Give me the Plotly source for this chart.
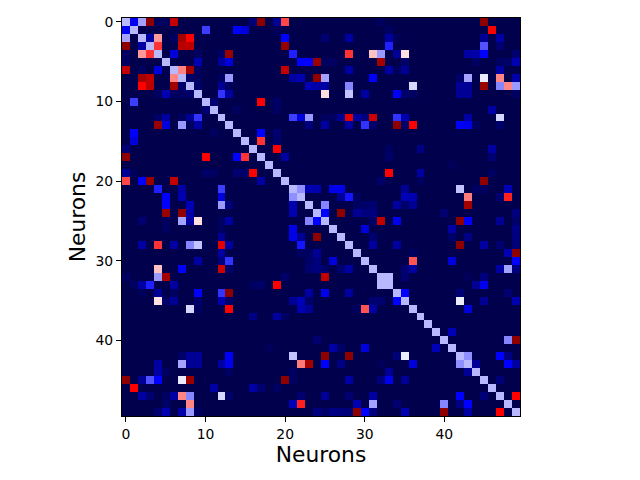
import numpy as np
import plotly.graph_objects as go

# upper triangle of the connectivity matrix, one source line per row
upper_rows = [
    0,0,0,0,0,0,0,0,0,0,0,0,
    1,1,1,1,1,1,
    2,2,2,2,2,2,2,2,2,2,2,2,
    3,3,3,3,3,3,3,
    4,4,4,4,4,4,4,4,4,4,4,4,4,4,
    5,5,5,5,5,5,5,5,5,5,5,5,5,5,
    6,6,6,6,6,6,6,6,6,
    7,7,7,7,7,7,7,7,7,7,7,7,7,7,
    8,8,8,8,8,8,8,8,8,8,8,8,8,8,
    9,9,9,9,9,9,9,9,9,9,9,
    10,10,10,
    11,11,11,
    12,12,12,12,12,12,12,12,12,12,12,12,12,12,
    13,13,13,13,13,13,13,13,13,13,13,13,
    14,14,
    15,15,
    16,16,16,16,
    17,17,17,
    18,
    19,19,19,
    20,20,20,
    21,21,21,21,21,21,21,21,21,21,
    22,22,22,22,22,22,22,22,
    23,23,23,23,23,23,23,23,
    24,24,24,24,24,24,24,
    25,25,25,25,25,25,25,
    26,26,26,
    27,27,27,27,
    28,28,28,28,28,28,
    29,29,29,
    30,30,30,
    31,31,31,31,31,
    32,32,32,32,
    33,33,
    34,34,34,
    35,35,35,
    36,
    39,
    40,40,
    42,42,42,
    43,43,43,
    45,
    47,
]
upper_cols = [
    1,2,3,4,5,6,16,17,19,20,32,45,
    10,14,15,19,33,46,
    3,4,6,7,8,20,25,28,33,34,45,47,
    4,7,8,20,33,45,47,
    6,9,12,13,21,28,31,32,34,35,43,44,45,49,
    9,12,13,22,23,24,25,26,32,35,44,47,48,49,
    7,8,9,20,28,33,34,35,47,
    8,9,12,13,21,22,24,25,31,42,43,45,47,49,
    9,12,13,23,24,25,28,36,42,43,45,47,48,49,
    12,13,25,28,30,34,35,36,42,43,49,
    11,17,19,
    14,19,46,
    21,22,23,25,26,27,28,29,30,31,34,35,43,47,
    23,25,28,30,31,34,35,36,42,43,44,47,
    17,19,
    17,19,
    19,33,37,46,
    20,33,46,
    41,
    33,37,46,
    32,37,45,
    22,23,24,26,27,35,42,44,45,48,
    27,28,29,35,36,43,47,48,
    25,29,30,31,34,35,36,43,
    25,27,29,30,31,40,49,
    31,32,34,42,43,47,49,
    30,41,49,
    31,41,43,49,
    31,34,42,45,47,49,
    36,48,49,
    36,41,49,
    35,36,47,48,49,
    33,35,43,45,
    44,45,
    35,42,48,
    42,45,49,
    43,
    41,
    48,49,
    43,47,48,
    44,48,49,
    47,
    49,
]
upper_values = [
    .23,.41,.97,.03,.03,.87,.06,.97,.10,.68,.03,.97,
    .31,.25,.20,.02,.03,.75,
    .12,.60,.03,.93,.75,.25,.05,.12,.12,.02,.10,.12,
    .70,.88,.88,.96,.28,.33,.05,
    .20,.03,.04,.95,.28,.70,.56,.40,.10,.53,.12,.13,.25,.05,
    .14,.12,.20,.25,.25,.95,.03,.03,.93,.04,.03,.03,.04,.14,
    .62,.93,.03,.87,.12,.12,.03,.10,.12,
    .04,.03,.03,.40,.12,.14,.97,.41,.24,.04,.41,.48,.62,.13,
    .04,.10,.03,.15,.13,.12,.38,.46,.10,.10,.95,.38,.62,.40,
    .30,.12,.53,.44,.12,.24,.04,.03,.10,.10,.03,
    .05,.75,.04,
    .03,.03,.12,
    .31,.20,.40,.03,.03,.10,.80,.12,.07,.85,.30,.14,.12,.46,
    .07,.12,.12,.30,.04,.97,.04,.75,.24,.22,.03,.04,
    .25,.05,
    .70,.04,
    .75,.03,.08,.12,
    .12,.04,.05,
    .02,
    .75,.12,.03,
    .04,.03,.97,
    .39,.14,.14,.22,.22,.10,.44,.03,.03,.15,
    .10,.27,.03,.15,.14,.63,.05,.72,
    .38,.03,.04,.05,.12,.04,.10,.93,
    .25,.97,.10,.07,.07,.05,.07,
    .04,.87,.22,.97,.25,.10,.04,
    .20,.12,.08,
    .05,.04,.08,.07,
    .12,.12,.97,.12,.05,.06,
    .03,.14,.97,
    .67,.20,.25,
    .05,.12,.12,.41,.07,
    .43,.05,.02,.07,
    .10,.22,
    .25,.06,.05,
    .48,.10,.14,
    .20,
    .15,
    .38,.97,
    .39,.25,.08,
    .10,.25,.12,
    .06,
    .75,
]
diagonal_values = [.43] * 50
tick_values = [0, 10, 20, 30, 40]

# matplotlib's seismic
seismic = [[0, "rgb(0,0,76)"], [.25, "rgb(0,0,255)"], [.5, "rgb(255,255,255)"],
           [.75, "rgb(255,0,0)"], [1, "rgb(127,0,0)"]]

# matrix is symmetric, so mirror the upper half
z = np.zeros((50, 50))
z[upper_rows, upper_cols] = upper_values
z[upper_cols, upper_rows] = upper_values
z[np.arange(50), np.arange(50)] = diagonal_values

fig = go.Figure(go.Heatmap(z=z, zmin=0, zmax=1, colorscale=seismic, showscale=False))

axis_style = dict(
    range=[-0.5, 49.5],
    tickvals=tick_values,
    ticks="outside",
    ticklen=5,
    tickwidth=1,
    tickcolor="black",
    tickfont=dict(family="DejaVu Sans", size=13.9, color="black"),
    showgrid=False,
    zeroline=False,
    showline=True,
    linecolor="black",
    linewidth=1,
    mirror=True,
)
fig.update_xaxes(**axis_style)
fig.update_yaxes(**axis_style)
fig.update_xaxes(title=dict(text="Neurons", font=dict(family="DejaVu Sans", size=21.8, color="black"), standoff=3))
fig.update_yaxes(range=[49.5, -0.5], title=dict(text="Neurons", font=dict(family="DejaVu Sans", size=21.8, color="black"), standoff=3))

fig.update_layout(
    width=640,
    height=480,
    margin=dict(l=121.5, r=120, t=17.5, b=63.5),
    paper_bgcolor="white",
    plot_bgcolor="white",
)

fig.write_html("out.html", config=dict(displayModeBar=False), post_script="document.body.style.margin='0';")
